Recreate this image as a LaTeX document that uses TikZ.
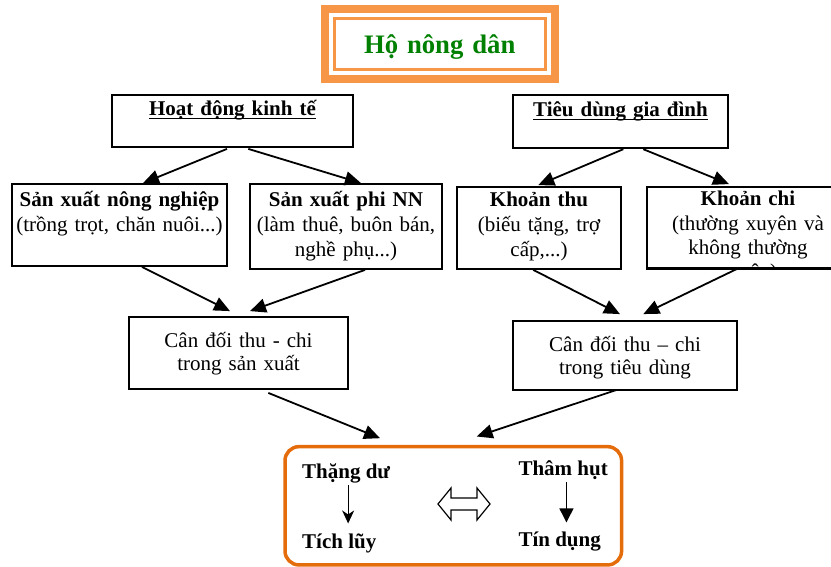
\documentclass[tikz,border=0pt]{standalone}
\usepackage{fontspec}
\setmainfont{Liberation Serif}
\usetikzlibrary{arrows.meta}

\definecolor{ttlgreen}{RGB}{0,128,0}
\definecolor{frameorange}{RGB}{247,150,70}
\definecolor{boxorange}{RGB}{228,108,10}

\newcommand{\ulword}[1]{\setbox0\hbox{#1}\rlap{\rule[-3.2pt]{\wd0}{1.3pt}}\box0}

\begin{document}
\begin{tikzpicture}[x=1pt, y=-1pt,
    box/.style={draw, line width=1.8pt, inner sep=0pt, align=center, anchor=base,
                font=\fontsize{21}{25}\selectfont},
    arr/.style={line width=1.8pt, -{Triangle[length=16pt,width=14pt]}},
    res/.style={inner sep=0pt, anchor=base west, font=\fontsize{21}{25}\selectfont\bfseries}]
        \useasboundingbox (0,0) rectangle (831,567);
        \clip (0,0) rectangle (831,567);
        % Title
        \node (hnd) at (439.7,53.3) [draw=frameorange, line width=3pt, inner sep=0pt,
            text width=210.7pt, align=center, text height=35pt, text depth=16.7pt, anchor=base,
            font=\fontsize{26.7}{30}\selectfont\bfseries, text=ttlgreen] {Hộ nông dân};
        \draw[frameorange, line width=8pt] ([shift={(-8,-8)}]hnd.north west) rectangle ([shift={(8,8)}]hnd.south east);
        % Nodes
        \node (hoat) at (232.5,116) [box, text width=241pt, text height=21pt, text depth=31pt] {\bfseries\ulword{Hoạt động kinh tế}};
        \node (tieu) at (620.5,117) [box, text width=215pt, text height=22pt, text depth=31pt] {\bfseries\ulword{Tiêu dùng gia đình}};
        \node (nn) at (119.5,207) [box, text width=215pt, text height=23pt, text depth=59pt] {\textbf{Sản xuất nông nghiệp}\\(trồng trọt, chăn nuôi...)};
        \node (pnn) at (346,207) [box, text width=192pt, text height=23pt, text depth=62pt] {\textbf{Sản xuất phi NN}\\(làm thuê, buôn bán,\\nghề phụ...)};
        \node (thu) at (539,206.5) [box, text width=164pt, text height=19.5pt, text depth=62.5pt] {\textbf{Khoản thu}\\(biếu tặng, trợ\\cấp,...)};
        \begin{scope}
            \clip (640,150) rectangle (831,268.8);
            \node (chi) at (748,206) [box, text width=202pt, text height=19pt, text depth=62pt,
                font=\fontsize{21}{24.3}\selectfont] {\textbf{Khoản chi}\\(thường xuyên và\\không thường\\xuyên)};
        \end{scope}
        \draw[line width=1.8pt] (chi.south west) -- (chi.south east);
        \node (csx) at (238.5,347.5) [box, text width=219pt, text height=30.5pt, text depth=41.5pt,
            font=\fontsize{21}{23}\selectfont] {Cân đối thu - chi\\trong sản xuất};
        \node (ctd) at (625,351) [box, text width=224pt, text height=30pt, text depth=39pt,
            font=\fontsize{21}{23}\selectfont] {Cân đối thu – chi\\trong tiêu dùng};
        % Lower nodes
        \node (kq) at (453.3,505.8) [draw=boxorange, line width=3.5pt, rounded corners=14pt,
            minimum width=336.6pt, minimum height=118.3pt] {};
        \node (thang) at (302,478) [res] {Thặng dư};
        \node (tichluy) at (302,548.3) [res] {Tích lũy};
        \node (tham) at (518.3,475) [res] {Thâm hụt};
        \node (tindung) at (518.3,546.7) [res] {Tín dụng};
        \draw[line width=1.2pt] (438,504) -- (451,488) -- (451,498) -- (477,498) -- (477,488) -- (490,504)
            -- (477,520) -- (477,510) -- (451,510) -- (451,520) -- cycle;
        % Edges
        \draw[arr] ([shift={(-5.5,1)}]hoat.south) -- ([shift={(23.5,0)}]nn.north);
        \draw[arr] ([shift={(15.8,1)}]hoat.south) -- ([shift={(15,0)}]pnn.north);
        \draw[arr] ([shift={(2.8,0.3)}]tieu.south) -- ([shift={(-0.7,-1)}]thu.north);
        \draw[arr] ([shift={(22.8,0.3)}]tieu.south) -- ([shift={(-19,-2)}]chi.north);
        \draw[arr] ([shift={(22.5,0)}]nn.south) -- ([shift={(-8.5,-5)}]csx.north);
        \draw[arr] ([shift={(19,0)}]pnn.south) -- ([shift={(11.5,-5)}]csx.north);
        \draw[arr] ([shift={(-5.7,0)}]thu.south) -- ([shift={(-5,-6)}]ctd.north);
        \draw[arr] ([shift={(-11,0)}]chi.south) -- ([shift={(18.3,-6)}]ctd.north);
        \draw[arr] ([shift={(29.8,3)}]csx.south) -- ([shift={(-73.3,-6.7)}]kq.north);
        \draw[arr] ([shift={(-8.3,-1)}]ctd.south) -- ([shift={(23.4,-8.4)}]kq.north);
        \draw[line width=1.3pt, -{Stealth[length=13pt,width=12pt,inset=4pt]}, shorten <=2.3pt, shorten >=10pt]
            ([xshift=2pt]thang.south) -- ([xshift=2pt]thang.south |- tichluy.north);
        \draw[line width=1.3pt, -{Triangle[length=14pt,width=14pt]}, shorten <=2.5pt, shorten >=9.5pt]
            ([xshift=3.3pt]tham.south) -- ([xshift=3.3pt]tham.south |- tindung.north);
\end{tikzpicture}
\end{document}
